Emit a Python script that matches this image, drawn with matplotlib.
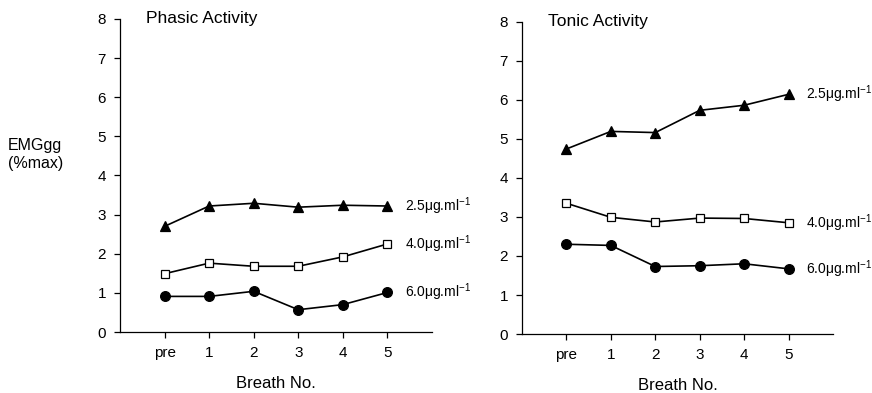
import matplotlib
matplotlib.use("Agg")
import matplotlib.pyplot as plt

plt.rcParams["font.family"] = ["Liberation Sans", "DejaVu Sans"]
plt.rcParams["mathtext.fontset"] = "custom"
plt.rcParams["mathtext.rm"] = "Liberation Sans"
plt.rcParams["mathtext.it"] = "Liberation Sans:italic"

breaths = ["pre", "1", "2", "3", "4", "5"]
doses = ["2.5", "4.0", "6.0"]

phasic_25 = [2.70, 3.22, 3.29, 3.19, 3.24, 3.22]
phasic_40 = [1.49, 1.76, 1.68, 1.68, 1.92, 2.25]
phasic_60 = [0.91, 0.91, 1.04, 0.57, 0.70, 1.01]

tonic_25 = [4.74, 5.19, 5.16, 5.73, 5.86, 6.14]
tonic_40 = [3.35, 2.99, 2.87, 2.97, 2.96, 2.85]
tonic_60 = [2.30, 2.27, 1.73, 1.75, 1.80, 1.67]

STYLES = [
    dict(marker="^", markersize=6.5, markerfacecolor="black"),
    dict(marker="s", markersize=5.8, markerfacecolor="white"),
    dict(marker="o", markersize=7, markerfacecolor="black"),
]

fig = plt.figure(figsize=(8.72, 3.93), dpi=100)
ax1 = fig.add_axes([0.1376, 0.1552, 0.3578, 0.7965])
ax2 = fig.add_axes([0.5986, 0.1500, 0.3567, 0.7948])


def draw_panel(ax, title, series):
    x = range(len(breaths))
    for vals, dose, st in zip(series, doses, STYLES):
        ax.plot(x, vals, color="black", linewidth=1.2,
                markeredgecolor="black", markeredgewidth=0.9, **st)
        ax.text(5.4, vals[-1], dose + r"μg.ml$^{\mathregular{-1}}$",
                fontsize=10, va="center", ha="left")
    ax.set_xlim(-1, 6)
    ax.set_ylim(0, 8)
    ax.set_xticks(list(x))
    ax.set_xticklabels(breaths)
    ax.set_yticks(range(0, 9))
    for side in ["top", "right"]:
        ax.spines[side].set_visible(False)
    for side in ["left", "bottom"]:
        ax.spines[side].set_linewidth(0.9)
    ax.tick_params(direction="out", length=4, width=0.9, labelsize=11, pad=6)
    ax.set_xlabel("Breath No.", fontsize=12)
    ax.xaxis.set_label_coords(0.5, -0.14)
    ax.text(-0.42, 8.0, title, fontsize=12.5, va="center", ha="left")


draw_panel(ax1, "Phasic Activity", [phasic_25, phasic_40, phasic_60])
draw_panel(ax2, "Tonic Activity", [tonic_25, tonic_40, tonic_60])

fig.text(0.009, 0.607, "EMGgg\n(%max)", fontsize=11.5, ha="left", va="center",
         linespacing=1.3)

fig.savefig("out.png", dpi=100, facecolor="white")
